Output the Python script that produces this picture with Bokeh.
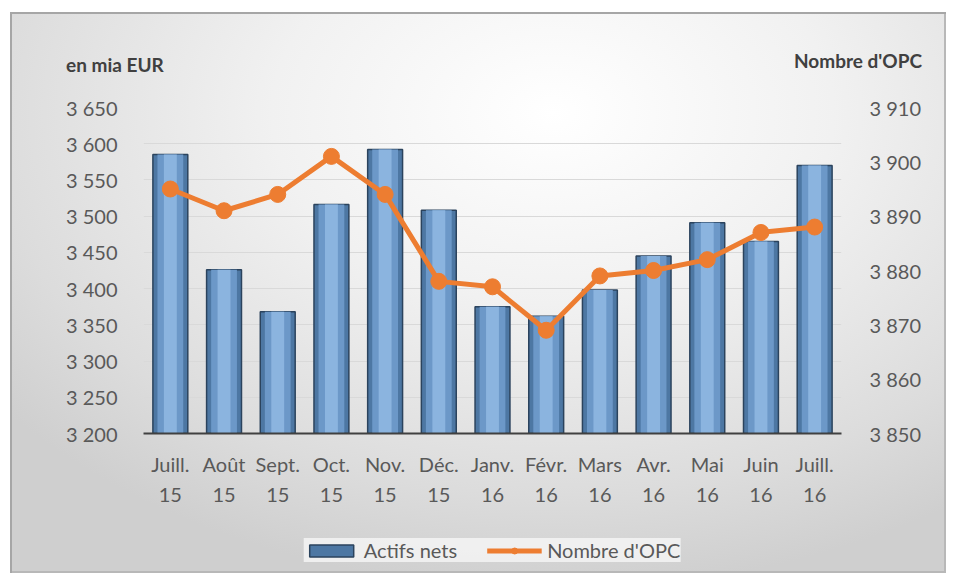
from bokeh.plotting import figure
from bokeh.layouts import column
from bokeh.models import (FactorRange, Range1d, LinearAxis, FixedTicker, Div,
                          Legend, LegendItem, ColumnDataSource)
from bokeh.embed import file_html
from bokeh.resources import INLINE

months = ["Juill.\n15", "Août\n15", "Sept.\n15", "Oct.\n15", "Nov.\n15", "Déc.\n15",
          "Janv.\n16", "Févr.\n16", "Mars\n16", "Avr.\n16", "Mai\n16", "Juin\n16", "Juill.\n16"]
actifs_nets = [3585, 3426, 3368, 3516, 3592, 3508, 3375, 3362, 3398, 3445, 3491, 3465, 3570]
nombre_opc = [3895, 3891, 3894, 3901, 3894, 3878, 3877, 3869, 3879, 3880, 3882, 3887, 3888]
left_ticks = [3200, 3250, 3300, 3350, 3400, 3450, 3500, 3550, 3600, 3650]
right_ticks = [3850, 3860, 3870, 3880, 3890, 3900, 3910]
left_title = "en mia EUR"
right_title = "Nombre d&#39;OPC"
series_names = ["Actifs nets", "Nombre d'OPC"]

FONT = "Lato"
GREY = "#595959"
FS = "20px"
BAR = dict(fill_color="#4d77a3", line_color="#2b435d", line_width=1.5)
ORANGE = "#ED7D31"
NAN = float("nan")

def fmt(v):
    return f"{v:,}".replace(",", " ")

def bare(fig):
    fig.border_fill_alpha = 0
    fig.background_fill_alpha = 0
    fig.outline_line_color = None
    return fig

# ---------- header with the two axis titles ----------
title_style = "position:absolute;font-family:Lato;font-weight:bold;font-size:19px;color:#404040;white-space:nowrap;line-height:23px;"
head = Div(width=936, height=80, margin=0,
           text=('<div style="position:relative;width:936px;height:80px;">'
                 f'<span style="{title_style}left:56px;top:41px;">{left_title}</span>'
                 f'<span style="{title_style}right:24px;top:37px;">{right_title}</span>'
                 '</div>'))

# ---------- main chart ----------
src = ColumnDataSource(dict(m=months, a=actifs_nets, o=nombre_opc))

p = bare(figure(x_range=FactorRange(*months), y_range=Range1d(left_ticks[0], left_ticks[-1]),
                width=936, height=435, output_backend="svg", toolbar_location=None,
                min_border_left=133, min_border_right=105, min_border_top=15,
                min_border_bottom=94))
p.extra_y_ranges = {"opc": Range1d(right_ticks[0], right_ticks[-1])}

bars = p.vbar(x="m", top="a", bottom=left_ticks[0], width=0.65, source=src, **BAR)
p.vbar(x="m", top="a", bottom=left_ticks[0], width=0.48, source=src,
       fill_color="#6c98c8", line_color=None)
p.vbar(x="m", top="a", bottom=left_ticks[0], width=0.24, source=src,
       fill_color="#8bb4df", line_color=None)

p.line(x="m", y="o", source=src, y_range_name="opc", line_color=ORANGE, line_width=5)
p.scatter(x="m", y="o", source=src, y_range_name="opc", size=16,
          fill_color=ORANGE, line_color=ORANGE)

ya = p.yaxis[0]
ya.ticker = FixedTicker(ticks=left_ticks)
ya.major_label_overrides = {t: fmt(t) for t in left_ticks}
ya.axis_line_color = None
ya.major_tick_line_color = None
ya.minor_tick_line_color = None
ya.major_label_text_font = FONT
ya.major_label_text_font_size = FS
ya.major_label_text_color = GREY
ya.major_label_standoff = 20

ra = LinearAxis(y_range_name="opc", ticker=FixedTicker(ticks=right_ticks),
                major_label_overrides={t: fmt(t) for t in right_ticks},
                axis_line_color=None, major_tick_line_color=None, minor_tick_line_color=None,
                major_label_text_font=FONT, major_label_text_font_size=FS,
                major_label_text_color=GREY, major_label_standoff=22)
p.add_layout(ra, "right")

xa = p.xaxis[0]
xa.axis_line_color = "#404040"
xa.axis_line_width = 2
xa.major_tick_line_color = None
xa.minor_tick_line_color = None
xa.major_label_text_font = FONT
xa.major_label_text_font_size = FS
xa.major_label_text_color = GREY
xa.major_label_text_line_height = 1.28
xa.major_label_standoff = 12

p.xgrid.grid_line_color = None
p.ygrid.grid_line_color = "#d9d9d9"
p.ygrid.grid_line_width = 1

# ---------- legend strip (proxy glyphs hold no drawable point) ----------
leg = bare(figure(width=936, height=46, output_backend="svg", toolbar_location=None,
                  x_axis_type=None, y_axis_type=None, x_range=Range1d(0, 1), y_range=Range1d(0, 1),
                  min_border=0, min_border_top=0, min_border_bottom=0))
leg.xgrid.grid_line_color = None
leg.ygrid.grid_line_color = None
r_bar = leg.vbar(x=[NAN], top=[NAN], bottom=[NAN], width=0.5, **BAR)
r_line = leg.line(x=[NAN], y=[NAN], line_color=ORANGE, line_width=5)
r_dot = leg.scatter(x=[NAN], y=[NAN], size=14, fill_color=ORANGE, line_color=ORANGE)
legend = Legend(items=[LegendItem(label=series_names[0], renderers=[r_bar]),
                       LegendItem(label=series_names[1], renderers=[r_line, r_dot])],
                orientation="horizontal", location="center",
                label_text_font=FONT, label_text_font_size=FS, label_text_color=GREY,
                glyph_width=55, glyph_height=15, spacing=30, padding=10, margin=0,
                label_standoff=5,
                background_fill_color="#f6f6f6", background_fill_alpha=0.8,
                border_line_color=None)
leg.add_layout(legend, "center")

layout = column(head, p, leg, spacing=0,
                styles={"margin": "12px 0 0 10px",
                        "box-shadow": "inset 2px 2px 0 0 #a6a6a6, inset -2px -2px 0 0 #b8b8b8",
                        "background": "radial-gradient(ellipse 75% 85% at 58% 18%, #ffffff 0%, #f1f1f1 40%, #dcdcdc 80%, #cfcfcf 100%)"})

open("out.html", "w").write(file_html(layout, INLINE))
